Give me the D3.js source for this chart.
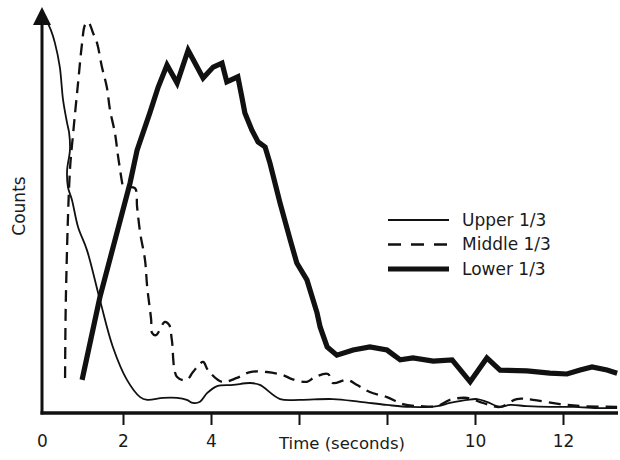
<!DOCTYPE html>
<html>
<head>
<meta charset="utf-8">
<script src="https://cdn.jsdelivr.net/npm/d3@7/dist/d3.min.js"></script>
<style>
  html, body { margin: 0; padding: 0; background: #fff; }
  svg { display: block; }
  text { font-family: "DejaVu Sans", Verdana, sans-serif; fill: #1a1a1a; }
</style>
</head>
<body>
<svg id="chart" width="620" height="460"></svg>
<script>
// Counts over time for three zones: [time (s), counts]
const upperSeries = [
  [0.07, 100], [0.12, 99.5], [0.22, 97.4], [0.32, 94.1], [0.44, 88.0],
  [0.52, 79.6], [0.62, 73.7], [0.67, 71.2], [0.69, 66.8], [0.62, 61.7],
  [0.64, 57.4], [0.74, 54.1], [0.89, 47.2], [1.11, 41.3], [1.43, 28.6],
  [1.75, 16.6], [2.09, 8.2], [2.39, 3.8], [2.55, 3.1], [2.91, 3.6],
  [3.23, 3.6], [3.45, 3.1], [3.59, 2.3], [3.75, 2.6], [3.91, 4.8],
  [4.14, 6.6], [4.5, 6.9], [4.89, 7.4], [5.11, 6.9], [5.57, 3.3],
  [6.02, 3.1], [6.77, 3.3], [7.39, 2.6], [8.0, 1.8], [8.52, 1.3],
  [9.14, 1.5], [9.43, 2.3], [9.82, 3.1], [10.05, 3.3], [10.27, 2.6],
  [10.57, 1.3], [10.80, 1.8], [11.18, 1.5], [11.70, 1.3], [12.23, 1.3],
  [12.84, 1.0], [13.23, 1.0]
];

const middleSeries = [
  [0.57, 8.7], [0.59, 29.3], [0.69, 61.7], [0.77, 71.2], [0.89, 83.9],
  [0.99, 94.1], [1.06, 98.7], [1.14, 99.5], [1.26, 96.7], [1.36, 94.1],
  [1.48, 88.0], [1.60, 82.9], [1.68, 77.0], [1.80, 71.2], [1.88, 65.1],
  [1.98, 58.4], [2.0, 57.4], [2.27, 57.1], [2.32, 52.3], [2.39, 45.7],
  [2.50, 38.8], [2.55, 31.9], [2.64, 23.5], [2.66, 20.2], [2.75, 19.6],
  [2.95, 23.0], [3.05, 22.2], [3.11, 18.4], [3.23, 8.9], [3.45, 8.2],
  [3.59, 10.2], [3.82, 12.8], [3.93, 10.7], [4.25, 7.7], [4.59, 8.7],
  [4.89, 10.2], [5.27, 10.2], [5.64, 9.4], [5.84, 8.4], [6.18, 7.7],
  [6.36, 8.9], [6.66, 9.7], [6.77, 7.4], [7.09, 8.2], [7.32, 6.9],
  [7.61, 5.1], [8.0, 3.8], [8.36, 2.0], [8.75, 1.5], [9.14, 1.5],
  [9.43, 3.1], [9.82, 3.6], [10.18, 2.3], [10.57, 1.3], [10.95, 3.3],
  [11.32, 3.1], [11.93, 2.0], [12.45, 1.5], [13.23, 1.3]
];

const lowerSeries = [
  [0.99, 8.2], [1.43, 29.3], [2.16, 58.4], [2.32, 66.8], [2.61, 76.3],
  [2.80, 82.9], [3.0, 88.5], [3.23, 83.9], [3.48, 92.3], [3.82, 85.2],
  [4.05, 88.0], [4.25, 89.0], [4.36, 84.2], [4.61, 85.5], [4.70, 80.4],
  [4.77, 76.3], [4.93, 71.9], [5.07, 68.9], [5.23, 67.6], [5.34, 63.5],
  [5.57, 53.3], [5.80, 43.9], [5.95, 38.0], [6.18, 33.7], [6.41, 25.3],
  [6.48, 21.7], [6.64, 16.6], [6.86, 14.5], [7.23, 15.8], [7.61, 16.6],
  [8.0, 15.8], [8.30, 13.3], [8.59, 13.8], [9.05, 13.0], [9.48, 13.3],
  [9.89, 7.7], [10.27, 13.8], [10.57, 10.7], [11.18, 10.5], [11.70, 9.9],
  [12.09, 9.7], [12.39, 10.7], [12.66, 11.5], [13.0, 10.7], [13.23, 9.9]
];

const timeTicks = [0, 2, 4, 6, 8, 10, 12];
// 6 and 8 keep their tick marks; the axis title sits where their labels would be
const labelledTicks = [0, 2, 4, 10, 12];
const legendLabels = ["Upper 1/3", "Middle 1/3", "Lower 1/3"];

const svg = d3.select("#chart");
const ink = "#111";

// The origin sits a little right of where an even 2-second spacing would put it
const x = d3.scaleLinear().domain([0, 2, 12]).range([42, 123, 563]);
const y = d3.scaleLinear().domain([0, 100]).range([412, 20]);

const axisY = 413;

// Bottom axis: ticks and labels, no domain path
const xAxis = d3.axisBottom(x)
  .tickValues(timeTicks)
  .tickSize(12)
  .tickPadding(10)
  .tickFormat(d => labelledTicks.includes(d) ? d3.format("d")(d) : "");

const gx = svg.append("g")
  .attr("transform", `translate(0,${axisY})`)
  .call(xAxis);
gx.select(".domain").remove();
gx.selectAll(".tick line").attr("stroke", ink).attr("stroke-width", 2);
gx.selectAll(".tick").filter(d => d === 0).select("line").remove();
gx.selectAll(".tick text")
  .attr("font-size", 17)
  .attr("font-family", "DejaVu Sans, Verdana, sans-serif")
  .attr("fill", "#1a1a1a");

// Axis lines
svg.append("line")
  .attr("x1", x(0) - 1.5).attr("x2", 618)
  .attr("y1", axisY).attr("y2", axisY)
  .attr("stroke", ink).attr("stroke-width", 3.5);

svg.append("line")
  .attr("x1", x(0)).attr("x2", x(0))
  .attr("y1", axisY + 1.5).attr("y2", 22)
  .attr("stroke", ink).attr("stroke-width", 3);

// Arrow head on the count axis
svg.append("path")
  .attr("d", d3.line()([[x(0), 7], [x(0) - 9, 25], [x(0) + 9, 25]]) + "Z")
  .attr("fill", ink);

// Axis titles
svg.append("text")
  .attr("x", 342).attr("y", 449)
  .attr("text-anchor", "middle")
  .attr("font-size", 16.5)
  .text("Time (seconds)");

svg.append("text")
  .attr("transform", "translate(19,206) rotate(-90)")
  .attr("text-anchor", "middle")
  .attr("dominant-baseline", "central")
  .attr("font-size", 17)
  .text("Counts");

// Series lines
const smooth = d3.line()
  .x(d => x(d[0])).y(d => y(d[1]))
  .curve(d3.curveCatmullRom.alpha(0.5));
const straight = d3.line()
  .x(d => x(d[0])).y(d => y(d[1]));

const styles = [
  { data: upperSeries, gen: smooth, width: 1.8, dash: null },
  { data: middleSeries, gen: smooth, width: 2.3, dash: "12,7" },
  { data: lowerSeries, gen: straight, width: 5.2, dash: null }
];

styles.forEach(s => {
  svg.append("path")
    .datum(s.data)
    .attr("d", s.gen)
    .attr("fill", "none")
    .attr("stroke", ink)
    .attr("stroke-width", s.width)
    .attr("stroke-linejoin", "miter")
    .attr("stroke-miterlimit", 4)
    .attr("stroke-dasharray", s.dash);
});

// Legend
const legend = svg.append("g").attr("transform", "translate(388,220)");
legendLabels.forEach((label, i) => {
  const row = legend.append("g").attr("transform", `translate(0,${i * 24.5})`);
  row.append("line")
    .attr("x1", 0).attr("x2", 61)
    .attr("y1", 0).attr("y2", 0)
    .attr("stroke", ink)
    .attr("stroke-width", styles[i].width)
    .attr("stroke-dasharray", i === 1 ? "13,10" : null);
  row.append("text")
    .attr("x", 74).attr("y", 0).attr("dy", "0.35em")
    .attr("font-size", 17)
    .text(label);
});
</script>
</body>
</html>
